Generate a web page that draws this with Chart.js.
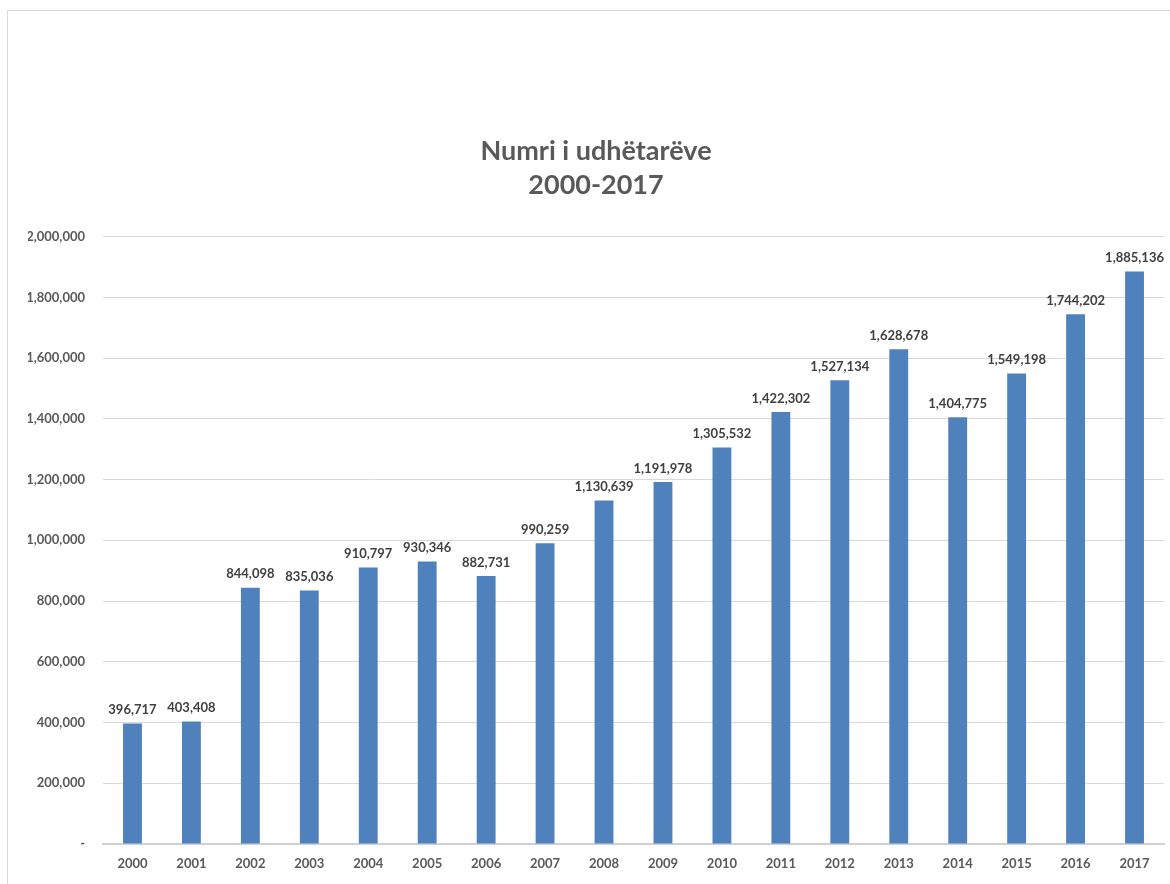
<!DOCTYPE html>
<html>
<head>
<meta charset="utf-8">
<script src="https://cdn.jsdelivr.net/npm/chart.js@4/dist/chart.umd.min.js"></script>
<style>
    body { margin: 0; background: #fff; overflow: hidden; }
    #frame { position: absolute; left: 7px; top: 10px; width: 1200px; height: 900px; border: 1px solid #d9d9d9; }
    #wrap { position: absolute; left: 0; top: 0; width: 1170px; height: 884px; }
</style>
</head>
<body>
<div id="frame"></div>
<div id="wrap"><canvas id="myChart"></canvas></div>
<script>
let years = ['2000', '2001', '2002', '2003', '2004', '2005', '2006', '2007', '2008',
             '2009', '2010', '2011', '2012', '2013', '2014', '2015', '2016', '2017'];
let passengers = [396717, 403408, 844098, 835036, 910797, 930346, 882731, 990259, 1130639,
                  1191978, 1305532, 1422302, 1527134, 1628678, 1404775, 1549198, 1744202, 1885136];
let titleLines = ['Numri i udhëtarëve', '2000-2017'];

var fontName = 'Lato, "Open Sans", sans-serif';

// draws the value above each bar
const barLabels = {
    id: 'barLabels',
    afterDatasetsDraw(chart) {
        const ctx = chart.ctx;
        const meta = chart.getDatasetMeta(0);
        ctx.save();
        ctx.font = 'bold 13px ' + fontName;
        ctx.fillStyle = '#404040';
        ctx.textAlign = 'center';
        ctx.textBaseline = 'bottom';
        meta.data.forEach(function(bar, i) {
            ctx.fillText(passengers[i].toLocaleString('en-US'), bar.x, bar.y - 7);
        });
        ctx.restore();
    }
};

const ctx = document.getElementById('myChart');

new Chart(ctx, {
    type: 'bar',
    data: {
        labels: years,
        datasets: [{
            data: passengers,
            backgroundColor: '#4f81bd',
            barPercentage: 0.32,
            categoryPercentage: 1
        }]
    },
    options: {
        responsive: true,
        maintainAspectRatio: false,
        animation: false,
        layout: { padding: { top: 134, left: 28, right: 6, bottom: 0 } },
        plugins: {
            legend: { display: false },
            tooltip: { enabled: false },
            title: {
                display: true,
                text: titleLines,
                color: '#595959',
                font: { family: fontName, size: 27, weight: 'bold', lineHeight: 1.27 },
                padding: { top: 0, bottom: 34 }
            }
        },
        scales: {
            x: {
                grid: { display: false },
                border: { display: true, color: '#d0d0d0', width: 2 },
                ticks: { color: '#595959', font: { family: fontName, size: 13, weight: 'bold' }, padding: 4 },
                afterFit: function(scale) { scale.height = 40; }
            },
            y: {
                min: 0,
                max: 2000000,
                grid: { color: '#d9d9d9', drawTicks: false },
                border: { display: false },
                ticks: {
                    stepSize: 200000,
                    color: '#595959',
                    padding: 18,
                    font: { family: fontName, size: 13, weight: 'bold' },
                    callback: function(value) {
                        return value === 0 ? '-' : value.toLocaleString('en-US');
                    }
                },
                afterFit: function(scale) { scale.width = 75; }
            }
        }
    },
    plugins: [barLabels]
});
</script>
</body>
</html>
